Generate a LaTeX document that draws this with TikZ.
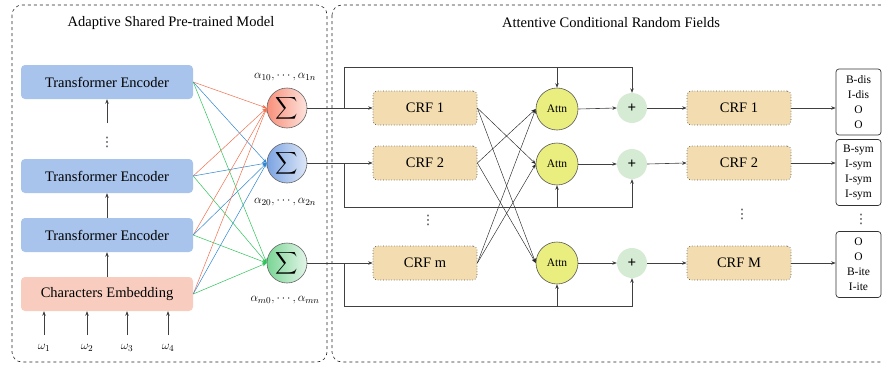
\documentclass[tikz,border=0pt]{standalone}
\usepackage{fontspec}
\usepackage{graphicx}
\setmainfont{Liberation Serif}
\newfontfamily\dejavu{DejaVu Sans}
\usetikzlibrary{arrows.meta}
\definecolor{encblue}{RGB}{168,196,236}
\definecolor{embpink}{RGB}{248,205,191}
\definecolor{crftan}{RGB}{243,221,176}
\definecolor{crfedge}{RGB}{90,90,90}
\definecolor{attnyellow}{RGB}{234,238,126}
\definecolor{plusgreen}{RGB}{214,235,211}
\definecolor{lred}{RGB}{240,112,80}
\definecolor{lblue}{RGB}{46,134,208}
\definecolor{lgreen}{RGB}{45,195,90}
\definecolor{sra}{RGB}{248,144,122}
\definecolor{srb}{RGB}{253,227,221}
\definecolor{sba}{RGB}{123,163,227}
\definecolor{sbb}{RGB}{222,232,247}
\definecolor{sga}{RGB}{123,213,150}
\definecolor{sgb}{RGB}{227,245,232}
\newcommand{\bigsig}{\scalebox{1.55}{$\displaystyle\sum$}}
\begin{document}
\begin{tikzpicture}[x=1pt,y=-1pt,
  enc/.style={rectangle, rounded corners=4pt, fill=encblue, minimum width=172pt, minimum height=34pt, inner sep=0pt, font=\fontsize{14.5}{17}\selectfont},
  embbox/.style={enc, fill=embpink},
  sig/.style={circle, draw=black!60, line width=0.6pt, minimum size=40pt, inner sep=0pt},
  crf/.style={rectangle, rounded corners=4pt, fill=crftan, draw=crfedge, dotted, line width=0.7pt, minimum width=104pt, minimum height=34pt, inner sep=0pt, font=\fontsize{14.5}{17}\selectfont},
  attn/.style={circle, fill=attnyellow, draw=black!65, line width=0.6pt, minimum size=42pt, inner sep=0pt, font=\fontsize{11.5}{13}\selectfont},
  plusc/.style={circle, fill=plusgreen, minimum size=30pt, inner sep=0pt, font=\bfseries\fontsize{15}{15}\selectfont},
  outb/.style={rectangle, rounded corners=3pt, draw=black!80, line width=0.7pt, minimum width=45pt, minimum height=66pt, align=center, inner sep=0pt, font=\fontsize{11.5}{15}\selectfont},
  conn/.style={-{Stealth[length=4.5pt,width=3.5pt]}, draw=black!75, line width=0.6pt},
  thin/.style={-{Stealth[length=4.5pt,width=3.5pt]}, draw=black!85, line width=0.45pt},
  frame/.style={dashed, draw=black!85, line width=0.6pt, rounded corners=10pt},
  lab/.style={font=\fontsize{12.5}{14}\selectfont},
  ttl/.style={font=\fontsize{14.5}{17}\selectfont},
  dots/.style={font=\dejavu\fontsize{13}{14}\selectfont, inner sep=0pt, text=black!80}
]
\useasboundingbox (0,0) rectangle (882,364);
% frames
\draw[frame] (12,5) rectangle (327,362);
\draw[frame] (332,5) rectangle (900,362);
\node[ttl] (t1) at (171,23) {Adaptive Shared Pre-trained Model};
\node[ttl] (t2) at (611,23) {Attentive Conditional Random Fields};

% left stack
\node[enc] (e1) at (107,82) {Transformer Encoder};
\node[dots] (d1) at (107,142) {⋮};
\node[enc] (e2) at (107,176) {Transformer Encoder};
\node[enc] (e3) at (107,235) {Transformer Encoder};
\node[embbox] (emb) at (107,294) {Characters Embedding};
\coordinate (d1t) at (107,123);
\draw[conn] (d1t) -- (e1.south);
\draw[conn] (e3.north) -- (e2.south);
\draw[conn] (emb.north) -- (e3.south);

\foreach \i/\x in {1/44,2/87,3/127,4/168}{
  \node[lab] (w\i) at (\x,348) {$\omega_{\i}$};
  \coordinate (wt\i) at (\x,335);
  \draw[conn] (wt\i) -- (emb.south -| wt\i);
}

% sigma nodes
\node[sig, left color=sra, right color=srb] (s1) at (287,108) {\bigsig};
\node[sig, left color=sba, right color=sbb] (s2) at (287,163) {\bigsig};
\node[sig, left color=sga, right color=sgb] (s3) at (287,263) {\bigsig};
\node[lab] (al1) at (285,77) {$\alpha_{10},\cdots,\alpha_{1n}$};
\node[lab] (al2) at (285,202) {$\alpha_{20},\cdots,\alpha_{2n}$};
\node[lab] (al3) at (285,300) {$\alpha_{m0},\cdots,\alpha_{mn}$};

\foreach \e in {e1,e2,e3,emb}{
  \draw[conn, draw=lred, line width=0.5pt] (\e.east) -- (s1.west);
  \draw[conn, draw=lblue, line width=0.5pt] (\e.east) -- (s2.west);
  \draw[conn, draw=lgreen, line width=0.5pt] (\e.east) -- (s3.west);
}

% left CRFs
\node[crf] (c1) at (425,108) {CRF 1};
\node[crf] (c2) at (425,163) {CRF 2};
\node[dots] (d2) at (428,220) {⋮};
\node[crf] (c3) at (425,263) {CRF m};
\draw[conn] (s1.east) -- (c1.west);
\draw[conn] (s2.east) -- (c2.west);
\draw[conn] (s3.east) -- (c3.west);

% attention
\node[attn] (a1) at (557,109) {Attn};
\node[attn] (a2) at (557,164) {Attn};
\node[attn] (a3) at (557,263) {Attn};
\draw[thin] (c1.east) -- (a2.west);
\draw[thin] (c1.east) -- (a3.west);
\draw[thin] (c2.east) -- (a1.west);
\draw[thin] (c2.east) -- (a3.west);
\draw[thin] (c3.east) -- (a1.west);
\draw[thin] (c3.east) -- (a2.west);

% plus
\node[plusc] (p1) at (632,108) {+};
\node[plusc] (p2) at (632,164) {+};
\node[plusc] (p3) at (632,263) {+};
\draw[conn] (a1.east) -- (p1.west);
\draw[conn] (a2.east) -- (p2.west);
\draw[conn] (a3.east) -- (p3.west);

% residual loops
\coordinate (b1) at (344,108);
\coordinate (top1) at (344,67);
\draw[conn] (b1) -- (top1) -| (p1.north);
\draw[conn] (a1.north |- top1) -- (a1.north);
\coordinate (b2) at (344,163);
\coordinate (bot2) at (344,207);
\draw[conn] (b2) -- (bot2) -| (p2.south);
\draw[conn] (a2.south |- bot2) -- (a2.south);
\coordinate (b3) at (344,263);
\coordinate (bot3) at (344,306);
\draw[conn] (b3) -- (bot3) -| (p3.south);
\draw[conn] (a3.south |- bot3) -- (a3.south);

% right CRFs
\node[crf] (r1) at (739,108) {CRF 1};
\node[crf] (r2) at (739,163) {CRF 2};
\node[dots] (d3) at (742,214) {⋮};
\node[crf] (r3) at (739,263) {CRF M};
\draw[conn] (p1.east) -- (r1.west);
\draw[conn] (p2.east) -- (r2.west);
\draw[conn] (p3.east) -- (r3.west);

% outputs
\node[outb] (o1) at (858.5,102) {B-dis\\I-dis\\O\\O};
\node[outb] (o2) at (858.5,172.5) {B-sym\\I-sym\\I-sym\\I-sym};
\node[dots] (d4) at (861,219) {⋮};
\node[outb] (o3) at (858.5,264.5) {O\\O\\B-ite\\I-ite};
\draw[conn] (r1.east) -- (o1.west |- r1.east);
\draw[conn] (r2.east) -- (o2.west |- r2.east);
\draw[conn] (r3.east) -- (o3.west |- r3.east);
\end{tikzpicture}
\end{document}
